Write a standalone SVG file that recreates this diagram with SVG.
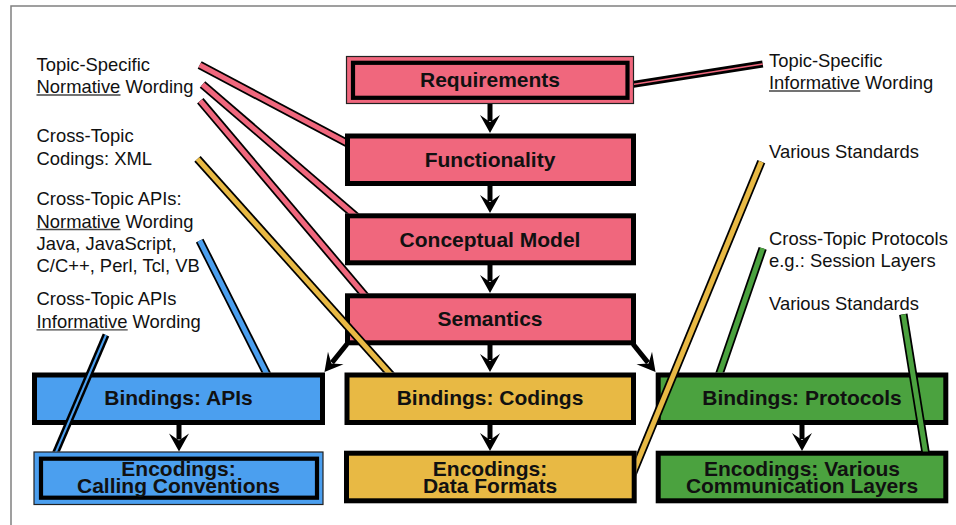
<svg xmlns="http://www.w3.org/2000/svg" width="956" height="525" viewBox="0 0 956 525">
<style>
.lbl{font-family:"Liberation Sans",Arial,sans-serif;font-size:18.4px;fill:#111}
.bt{font-family:"Liberation Sans",Arial,sans-serif;font-size:21px;font-weight:bold;fill:#111;text-anchor:middle}
.ul{stroke:#444;stroke-width:1.3}
.thick{stroke:#000;stroke-width:5}
.outer{stroke:#222;stroke-width:1.2}
.inner{fill:none;stroke:#000;stroke-width:4.2}
.pink{fill:#F0677D}
.blue{fill:#4B9FEF}
.gold{fill:#E8B944}
.green{fill:#4BA23F}
.bk{stroke:#000;stroke-width:8.5;stroke-linecap:butt;fill:none}
.bkt{stroke:#000;stroke-width:7;stroke-linecap:butt;fill:none}
.cp{stroke:#F0677D;stroke-width:5}
.cb{stroke:#4B9FEF;stroke-width:5}
.cg{stroke:#E8B944;stroke-width:5}
.cn{stroke:#4BA23F;stroke-width:5}
.cpt{stroke:#F0677D;stroke-width:1.6}
.cbt{stroke:#4B9FEF;stroke-width:2}
.arr{stroke:#000;stroke-width:5;fill:none;marker-end:url(#ah)}
</style>
<defs>
<marker id="ah" viewBox="-8 -11 22 22" markerWidth="22" markerHeight="22" refX="0" refY="0" orient="auto" markerUnits="userSpaceOnUse">
<path d="M12,0 L-6,-10 L1,0 L-6,10 Z" fill="#000"/>
</marker>
<clipPath id="cL345"><rect x="0" y="0" width="345" height="525"/></clipPath>
<clipPath id="cT213"><rect x="0" y="0" width="956" height="213.5"/></clipPath>
<clipPath id="cT293"><rect x="0" y="0" width="956" height="293.5"/></clipPath>
<clipPath id="cT372"><rect x="0" y="0" width="956" height="372.5"/></clipPath>
<clipPath id="cT451"><rect x="0" y="0" width="956" height="451.5"/></clipPath>
<clipPath id="cR636"><rect x="636.5" y="0" width="400" height="525"/></clipPath>
<clipPath id="cR634"><rect x="634" y="0" width="400" height="525"/></clipPath>
</defs>
<rect x="0" y="0" width="956" height="525" fill="#fff"/>
<path d="M11,530 L11,6 L960,6" fill="none" stroke="#808080" stroke-width="1.5"/>

<g id="n-requirements">
<rect class="pink outer" x="346.5" y="56.5" width="287" height="47"/>
<rect class="inner" x="353" y="62.8" width="274.5" height="35"/>
<text class="bt" x="490" y="87">Requirements</text>
</g>
<g id="n-functionality">
<rect class="pink thick" x="347.5" y="136" width="286" height="47.5"/>
<text class="bt" x="490" y="167">Functionality</text>
</g>
<g id="n-conceptual">
<rect class="pink thick" x="347.5" y="215.8" width="286" height="47"/>
<text class="bt" x="490" y="246.5">Conceptual Model</text>
</g>
<g id="n-semantics">
<rect class="pink thick" x="347.5" y="295.8" width="286" height="47"/>
<text class="bt" x="490" y="326">Semantics</text>
</g>
<g id="n-bind-apis">
<rect class="blue thick" x="34.5" y="375" width="288" height="47.5"/>
<text class="bt" x="178.5" y="405">Bindings: APIs</text>
</g>
<g id="n-bind-codings">
<rect class="gold thick" x="347" y="375" width="286.5" height="47.5"/>
<text class="bt" x="490" y="405">Bindings: Codings</text>
</g>
<g id="n-bind-protocols">
<rect class="green thick" x="658.2" y="375" width="287.6" height="47.5"/>
<text class="bt" x="802" y="405">Bindings: Protocols</text>
</g>
<g id="n-enc-calling">
<rect class="blue outer" x="34" y="452" width="289" height="52.5"/>
<rect class="inner" x="41" y="458.7" width="276" height="39"/>
<text class="bt" x="178.5" y="476">Encodings:</text>
<text class="bt" x="178.5" y="493">Calling Conventions</text>
</g>
<g id="n-enc-data">
<rect class="gold thick" x="346.5" y="453.2" width="287.7" height="47.6"/>
<text class="bt" x="490" y="476">Encodings:</text>
<text class="bt" x="490" y="493">Data Formats</text>
</g>
<g id="n-enc-comm">
<rect class="green thick" x="658.2" y="453.2" width="287.6" height="47.6"/>
<text class="bt" x="802" y="476">Encodings: Various</text>
<text class="bt" x="802" y="493">Communication Layers</text>
</g>

<g id="label-topic-normative">
<text class="lbl" x="36.5" y="71">Topic-Specific</text>
<text class="lbl" x="36.5" y="93">Normative Wording</text>
<line class="ul" x1="36.5" y1="95" x2="120.5" y2="95"/>
</g>
<g id="label-coding-xml">
<text class="lbl" x="36.5" y="142">Cross-Topic</text>
<text class="lbl" x="36.5" y="164.5">Codings: XML</text>
</g>
<g id="label-api-normative">
<text class="lbl" x="36.5" y="205">Cross-Topic APIs:</text>
<text class="lbl" x="36.5" y="227.5">Normative Wording</text>
<line class="ul" x1="36.5" y1="229.5" x2="120.5" y2="229.5"/>
<text class="lbl" x="36.5" y="250">Java, JavaScript,</text>
<text class="lbl" x="36.5" y="272">C/C++, Perl, Tcl, VB</text>
</g>
<g id="label-api-informative">
<text class="lbl" x="36.5" y="305">Cross-Topic APIs</text>
<text class="lbl" x="36.5" y="327.5">Informative Wording</text>
<line class="ul" x1="36.5" y1="329.8" x2="127.7" y2="329.8"/>
</g>
<g id="label-topic-informative">
<text class="lbl" x="769" y="67">Topic-Specific</text>
<text class="lbl" x="769" y="89">Informative Wording</text>
<line class="ul" x1="769" y1="91" x2="860.3" y2="91"/>
</g>
<g id="label-various-1">
<text class="lbl" x="769" y="158">Various Standards</text>
</g>
<g id="label-protocols">
<text class="lbl" x="769" y="245">Cross-Topic Protocols</text>
<text class="lbl" x="769" y="267">e.g.: Session Layers</text>
</g>
<g id="label-various-2">
<text class="lbl" x="769" y="310">Various Standards</text>
</g>

<g id="connectors">
<g clip-path="url(#cL345)"><line class="bk" x1="199.7" y1="65" x2="355" y2="147.3"/><line class="cp" x1="199.7" y1="65" x2="355" y2="147.3"/></g>
<g clip-path="url(#cT213)"><line class="bk" x1="202.5" y1="84.5" x2="366" y2="225"/><line class="cp" x1="202.5" y1="84.5" x2="366" y2="225"/></g>
<g clip-path="url(#cT293)"><line class="bk" x1="200.3" y1="100.8" x2="372.9" y2="305"/><line class="cp" x1="200.3" y1="100.8" x2="372.9" y2="305"/></g>
<g clip-path="url(#cT372)"><line class="bk" x1="197.5" y1="158.8" x2="400" y2="385"/><line class="cg" x1="197.5" y1="158.8" x2="400" y2="385"/></g>
<g clip-path="url(#cT372)"><line class="bk" x1="199.7" y1="240.7" x2="272.4" y2="385"/><line class="cb" x1="199.7" y1="240.7" x2="272.4" y2="385"/></g>
<g clip-path="url(#cT451)"><line class="bkt" x1="106" y1="335" x2="51.7" y2="462"/><line class="cbt" x1="106" y1="335" x2="51.7" y2="462"/></g>
<g clip-path="url(#cR634)"><line class="bkt" x1="762.7" y1="64" x2="625" y2="85.6"/><line class="cpt" x1="762.7" y1="64" x2="625" y2="85.6"/></g>
<g clip-path="url(#cR636)"><line class="bk" x1="761.3" y1="161.7" x2="628" y2="485.1"/><line class="cg" x1="761.3" y1="161.7" x2="628" y2="485.1"/></g>
<g clip-path="url(#cT372)"><line class="bk" x1="762.7" y1="248.3" x2="715.6" y2="385"/><line class="cn" x1="762.7" y1="248.3" x2="715.6" y2="385"/></g>
<g clip-path="url(#cT451)"><line class="bk" x1="903.3" y1="314.3" x2="927.1" y2="462"/><line class="cn" x1="903.3" y1="314.3" x2="927.1" y2="462"/></g>

<line class="arr" x1="490" y1="104" x2="490" y2="121"/>
<line class="arr" x1="490" y1="185.5" x2="490" y2="201"/>
<line class="arr" x1="490" y1="265" x2="490" y2="281"/>
<line class="arr" x1="490" y1="345" x2="490" y2="360"/>
<line class="arr" x1="347" y1="344" x2="332" y2="362.6"/>
<line class="arr" x1="633" y1="344" x2="648" y2="362.6"/>
<line class="arr" x1="490" y1="425" x2="490" y2="439"/>
<line class="arr" x1="179" y1="425" x2="179" y2="439.5"/>
<line class="arr" x1="802" y1="425" x2="802" y2="439"/>
</g>
</svg>
